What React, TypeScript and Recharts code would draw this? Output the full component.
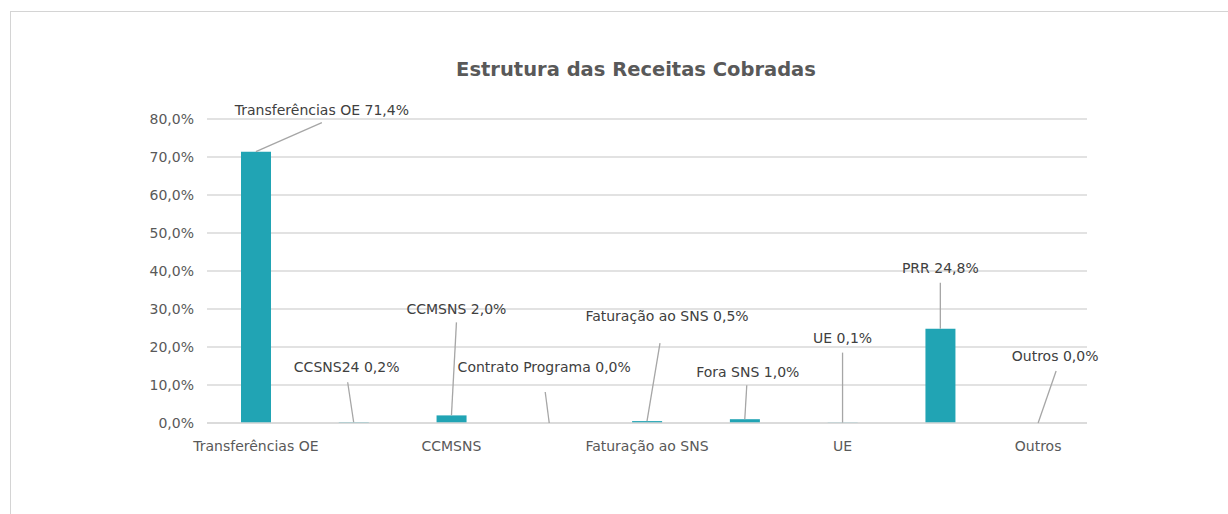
import React from 'react';
import { ComposedChart, Bar, Line, XAxis, YAxis, CartesianGrid, LabelList } from 'recharts';

const categories = [
  'Transferências OE',
  'CCSNS24',
  'CCMSNS',
  'Contrato Programa',
  'Faturação ao SNS',
  'Fora SNS',
  'UE',
  'PRR',
  'Outros',
];
const values = [71.4, 0.2, 2.0, 0.0, 0.5, 1.0, 0.1, 24.8, 0.0];
const yTicks = [0, 10, 20, 30, 40, 50, 60, 70, 80];

// label layout: text centre and leader-line start, relative to the bar's top centre
const labelLayout = [
  { tx: 66, ty: -42, lx: 66, ly: -29 },
  { tx: -7, ty: -55, lx: -6, ly: -40 },
  { tx: 5, ty: -106, lx: 5, ly: -93 },
  { tx: -5, ty: -56, lx: -4, ly: -31 },
  { tx: 20, ty: -105, lx: 13, ly: -78 },
  { tx: 3, ty: -47, lx: 2, ly: -34 },
  { tx: 0, ty: -85, lx: 0, ly: -70 },
  { tx: 0, ty: -61, lx: 0, ly: -46 },
  { tx: 17, ty: -67, lx: 18, ly: -52 },
];

const fmt = (v: number) => v.toFixed(1).replace('.', ',') + '%';

const data = categories.map((name, i) => ({ name, value: values[i] }));

const FONT = '"DejaVu Sans", sans-serif';

const renderLabel = (props: any) => {
  const { x, y, index } = props;
  const i = Number(index);
  const layout = labelLayout[i];
  if (!layout) return null;
  const cx = Number(x);
  const top = Number(y);
  const text = `${categories[i]} ${fmt(values[i])}`;
  return (
    <g key={`lbl-${i}`}>
      <line
        x1={cx + layout.lx}
        y1={top + layout.ly}
        x2={cx}
        y2={top}
        stroke="#a6a6a6"
        strokeWidth={1.3}
      />
      <text
        x={cx + layout.tx}
        y={top + layout.ty}
        textAnchor="middle"
        dominantBaseline="central"
        fontSize={14}
        fontFamily={FONT}
        fill="#404040"
      >
        {text}
      </text>
    </g>
  );
};

export default function App() {
  return (
    <div style={{ position: 'fixed', left: 0, top: 0, width: 1228, height: 514, background: '#fff', overflow: 'hidden' }}>
      <div
        style={{
          position: 'absolute',
          left: 10,
          top: 11,
          width: 1300,
          height: 600,
          borderLeft: '1px solid #d4d4d4',
          borderTop: '1px solid #d4d4d4',
        }}
      />
      <div
        style={{
          position: 'absolute',
          left: 0,
          width: 1272,
          top: 59,
          lineHeight: '22px',
          textAlign: 'center',
          fontFamily: FONT,
          fontWeight: 'bold',
          fontSize: 19.5,
          color: '#595959',
        }}
      >
        Estrutura das Receitas Cobradas
      </div>
      <div style={{ position: 'absolute', left: 0, top: 0 }}>
        <ComposedChart
          width={1228}
          height={514}
          data={data}
          margin={{ top: 119, right: 141, bottom: 61, left: 147 }}
          barSize={30}
        >
          <CartesianGrid vertical={false} stroke="#d9d9d9" strokeWidth={1.3} />
          <XAxis
            dataKey="name"
            interval={1}
            axisLine={{ stroke: '#d9d9d9', strokeWidth: 1.3 }}
            tickLine={false}
            tickMargin={12}
            height={30}
            tick={{ fill: '#595959', fontSize: 14, fontFamily: FONT }}
          />
          <YAxis
            domain={[0, 80]}
            ticks={yTicks}
            width={60}
            axisLine={false}
            tickLine={false}
            tickMargin={7}
            tickFormatter={fmt}
            tick={{ fill: '#595959', fontSize: 14, fontFamily: FONT }}
          />
          <Bar dataKey="value" fill="#21a4b4" isAnimationActive={false} />
          <Line
            dataKey="value"
            stroke="none"
            strokeWidth={0}
            dot={false}
            activeDot={false}
            legendType="none"
            isAnimationActive={false}
          >
            <LabelList dataKey="value" content={renderLabel} />
          </Line>
        </ComposedChart>
      </div>
    </div>
  );
}
